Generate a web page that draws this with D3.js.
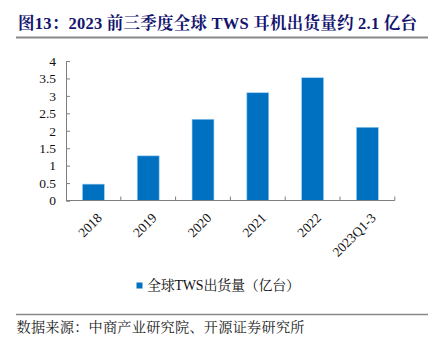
<!DOCTYPE html>
<html><head><meta charset="utf-8">
<script src="https://cdn.jsdelivr.net/npm/d3@7"></script>
<style>body{margin:0;background:#fff}</style>
</head><body>
<svg id="c" width="434" height="344"></svg>
<script>
const categories = ["2018","2019","2020","2021","2022","2023Q1-3"];
const values = [0.47, 1.28, 2.33, 3.09, 3.52, 2.1];
const yTicks = [0,0.5,1,1.5,2,2.5,3,3.5,4];
const titleText = "图13：2023 前三季度全球 TWS 耳机出货量约 2.1 亿台";
const legendText = "全球TWS出货量（亿台）";
const sourceText = "数据来源：中商产业研究院、开源证券研究所";

const svg = d3.select("#c");
const serif = "'Liberation Serif','Times New Roman','Noto Serif CJK SC','Noto Sans CJK SC',serif";
const x = d3.scaleBand().domain(categories).range([66,394.8]).paddingInner(0.6).paddingOuter(0.3);
const y = d3.scaleLinear().domain([0,4]).range([200.5,61]);

// title
svg.append("text").attr("x",18).attr("y",29).attr("fill","#14146e")
  .attr("font-family",serif).attr("font-weight","bold").attr("font-size",16.5)
  .attr("textLength",399).attr("lengthAdjust","spacing")
  .text(titleText);
svg.append("line").attr("x1",16).attr("x2",428).attr("y1",37.5).attr("y2",37.5)
  .attr("stroke","#888").attr("stroke-width",2);

// bars
svg.append("g").selectAll("rect").data(values).join("rect")
  .attr("x",(d,i)=>x(categories[i])).attr("width",x.bandwidth())
  .attr("y",d=>y(d)).attr("height",d=>y(0)-y(d))
  .attr("fill","#0070c0").attr("stroke","#9fd0f2").attr("stroke-width",0.6);

// y axis
const ya = svg.append("g").attr("transform","translate(66,0)")
  .call(d3.axisLeft(y).tickValues(yTicks).tickSize(-4).tickPadding(10).tickFormat(d3.format("")));
ya.select(".domain").attr("stroke","#7f7f7f");
ya.selectAll(".tick line").attr("stroke","#7f7f7f");
ya.selectAll("text").attr("font-family",serif).attr("font-size",13.5).attr("fill","#111");

// x axis
const xb = d3.scaleLinear().domain([0,categories.length]).range([66,394.8]);
const xa = svg.append("g").attr("transform","translate(0,200.5)");
xa.append("line").attr("x1",66).attr("x2",394.8).attr("stroke","#7f7f7f");
xa.selectAll("line.t").data(d3.range(1,categories.length+1)).join("line").attr("class","t")
  .attr("x1",d=>xb(d)).attr("x2",d=>xb(d)).attr("y1",0).attr("y2",-4).attr("stroke","#7f7f7f");
xa.selectAll("text").data(categories).join("text")
  .attr("transform",d=>`translate(${x(d)+x.bandwidth()/2+6},${15}) rotate(-45)`)
  .attr("text-anchor","end").attr("dy","0.35em")
  .attr("font-family",serif).attr("font-size",13.5).attr("fill","#111").text(d=>d);

// legend
svg.append("rect").attr("x",136.5).attr("y",282.5).attr("width",6).attr("height",6).attr("fill","#0070c0");
svg.append("text").attr("x",147).attr("y",290).attr("font-family",serif).attr("font-size",14)
  .attr("textLength",153).attr("lengthAdjust","spacing")
  .attr("fill","#111").text(legendText);

// source
svg.append("line").attr("x1",16).attr("x2",428).attr("y1",314.5).attr("y2",314.5)
  .attr("stroke","#888").attr("stroke-width",1.5);
svg.append("text").attr("x",16.5).attr("y",332).attr("font-family",serif).attr("font-size",14.2)
  .attr("textLength",288).attr("lengthAdjust","spacing")
  .attr("fill","#222").text(sourceText);
</script>
</body></html>
